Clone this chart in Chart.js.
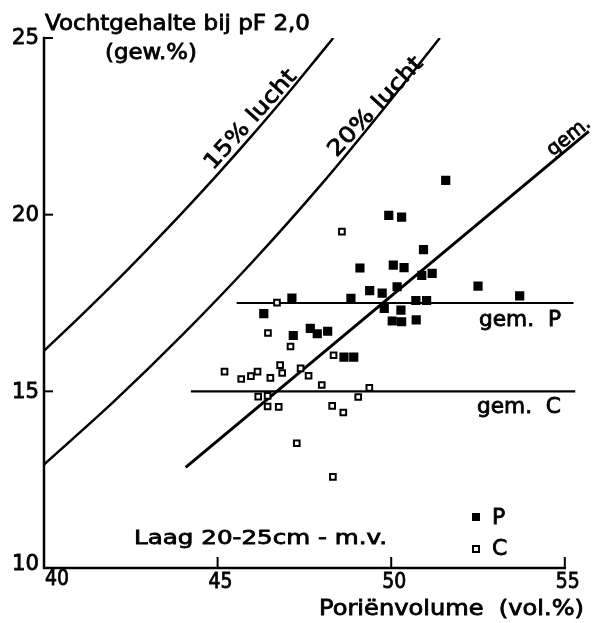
<!DOCTYPE html>
<html lang="nl">
<head>
<meta charset="UTF-8" />
<title>Vochtgehalte bij pF 2,0</title>
<script src="https://cdn.jsdelivr.net/npm/chart.js"></script>
<style>
    * { margin: 0; padding: 0; box-sizing: border-box; }
    body { background: #fff; width: 597px; height: 623px; overflow: hidden; }
    canvas { display: block; }
</style>
</head>
<body>
<canvas id="chart" width="597" height="623"></canvas>
<script>
    // axis ticks
    const xTicks = [40, 45, 50, 55];
    const yTicks = [10, 15, 20, 25];

    // P (filled squares)
    const pX = [51.57, 49.93, 50.30, 50.93, 49.10, 50.06, 50.37, 50.88, 51.18, 50.17, 52.50, 49.38, 49.74, 48.84, 53.70,
                50.71, 51.02, 47.14, 46.33, 49.80, 50.28, 50.03, 50.30, 50.72, 47.67, 47.87, 48.17, 47.18, 48.64, 48.92];
    const pY = [20.97, 19.98, 19.93, 19.01, 18.49, 18.57, 18.50, 18.28, 18.34, 17.96, 17.98, 17.85, 17.78, 17.63, 17.70,
                17.57, 17.57, 17.64, 17.20, 17.35, 17.30, 16.99, 16.97, 17.02, 16.78, 16.63, 16.70, 16.58, 15.97, 15.97];

    // C (open squares)
    const cX = [45.20, 45.68, 45.96, 46.15, 46.52, 46.80, 46.86, 47.39, 47.62, 48.00, 49.37, 49.05, 46.17, 46.44, 46.44,
                46.76, 48.30, 48.62, 47.28, 48.32, 46.45, 47.10, 46.71, 48.58, 48.34];
    const cY = [15.56, 15.35, 15.43, 15.56, 15.38, 15.74, 15.52, 15.65, 15.44, 15.18, 15.10, 14.84, 14.85, 14.87, 14.57,
                14.56, 14.59, 14.40, 13.53, 12.58, 16.65, 16.27, 17.51, 19.52, 16.02];

    // lines
    const lucht15X = [40, 41, 42, 43, 44, 45, 46, 47, 48, 48.33];
    const lucht15Y = [16.15, 17.08, 18.04, 19.04, 20.07, 21.14, 22.25, 23.40, 24.60, 25.0];
    const lucht20X = [40, 42, 44, 46, 48, 50, 51.4];
    const lucht20Y = [12.93, 14.70, 16.61, 18.66, 20.87, 23.26, 25.0];
    const gemX = [44.08, 55.69];
    const gemY = [12.85, 22.36];
    const gemPX = [45.55, 55.25];
    const gemPY = [17.5, 17.5];
    const gemCX = [44.23, 55.3];
    const gemCY = [15.0, 15.0];

    const pts = (xs, ys) => xs.map((x, i) => ({ x: x, y: ys[i] }));

    function lineSet(xs, ys, w) {
        return {
            data: pts(xs, ys),
            showLine: true,
            borderColor: '#000',
            borderWidth: w,
            pointRadius: 0,
            cubicInterpolationMode: 'monotone'
        };
    }

    // text drawn squeezed/stretched to the width it has in the figure
    function label(ctx, s, x, y, size, w, align, rot) {
        ctx.save();
        ctx.font = size + 'px "DejaVu Sans"';
        const m = ctx.measureText(s).width;
        ctx.translate(x, y);
        if (rot) ctx.rotate(rot);
        ctx.scale(w ? w / m : 1, 1);
        ctx.textAlign = align || 'left';
        ctx.textBaseline = 'middle';
        ctx.fillStyle = '#000';
        ctx.strokeStyle = '#000';
        ctx.lineWidth = 0.8;
        ctx.fillText(s, 0, 0);
        ctx.strokeText(s, 0, 0);
        ctx.restore();
    }

    const deg = Math.PI / 180;

    const frame = {
        id: 'frame',
        afterDraw(chart) {
            const ctx = chart.ctx;
            const xs = chart.scales.x, ys = chart.scales.y;
            const x0 = xs.getPixelForValue(40), y0 = ys.getPixelForValue(10);
            ctx.save();
            ctx.strokeStyle = '#000';
            ctx.lineWidth = 2.5;
            ctx.lineCap = 'square';
            ctx.beginPath();
            ctx.moveTo(x0, ys.getPixelForValue(25));
            ctx.lineTo(x0, y0);
            ctx.lineTo(xs.getPixelForValue(55), y0);
            ctx.stroke();

            // ticks point inward
            ctx.lineWidth = 2;
            yTicks.forEach(v => {
                if (v === 10) return;
                const py = ys.getPixelForValue(v);
                ctx.beginPath();
                ctx.moveTo(x0, py);
                ctx.lineTo(x0 + 8, py);
                ctx.stroke();
            });
            xTicks.forEach(v => {
                if (v === 40) return;
                const px = xs.getPixelForValue(v);
                ctx.beginPath();
                ctx.moveTo(px, y0);
                ctx.lineTo(px, y0 - 10);
                ctx.stroke();
            });
            ctx.restore();

            // tick labels
            yTicks.forEach(v => {
                const py = ys.getPixelForValue(v) + (v === 10 ? -3 : 1);
                label(ctx, String(v), x0 - 5, py, 21, 27, 'right');
            });
            xTicks.forEach(v => {
                const px = xs.getPixelForValue(v);
                if (v === 40) label(ctx, String(v), px + 1, y0 + 12, 21, 24, 'left');
                else label(ctx, String(v), px + 3, y0 + 15, 21, 24, 'center');
            });

            // axis titles and notes
            label(ctx, 'Vochtgehalte bij pF 2,0', 45, 25, 21, 265, 'left');
            label(ctx, '(gew.%)', 105, 54, 21, 92, 'left');
            label(ctx, 'Poriënvolume  (vol.%)', 319, 610, 21, 265, 'left');
            label(ctx, 'Laag 20-25cm - m.v.', 134, 539, 20, 253, 'left');
            label(ctx, 'gem.  P', 479, 321, 21, 82, 'left');
            label(ctx, 'gem.  C', 477, 408, 21, 84, 'left');
            label(ctx, '15% lucht', 251, 120, 22, 126, 'center', -48 * deg);
            label(ctx, '20% lucht', 376, 107, 22, 128, 'center', -47 * deg);
            label(ctx, 'gem.', 569, 137, 20, 50, 'center', -39 * deg);

            // legend
            ctx.save();
            ctx.fillStyle = '#000';
            ctx.fillRect(472, 513, 8, 8);
            ctx.strokeStyle = '#000';
            ctx.lineWidth = 2;
            ctx.strokeRect(473, 546, 6, 6);
            ctx.restore();
            label(ctx, 'P', 492, 518, 22, 0, 'left');
            label(ctx, 'C', 492, 549, 22, 0, 'left');
        }
    };

    new Chart(document.getElementById('chart'), {
        type: 'scatter',
        data: {
            datasets: [
                {
                    data: pts(pX, pY),
                    pointStyle: 'rect',
                    pointRadius: 6.5,
                    backgroundColor: '#000',
                    borderColor: '#000',
                    borderWidth: 0
                },
                {
                    data: pts(cX, cY),
                    pointStyle: 'rect',
                    pointRadius: 4,
                    backgroundColor: '#fff',
                    borderColor: '#000',
                    borderWidth: 2
                },
                lineSet(lucht15X, lucht15Y, 2.5),
                lineSet(lucht20X, lucht20Y, 2.5),
                lineSet(gemX, gemY, 3),
                lineSet(gemPX, gemPY, 2.2),
                lineSet(gemCX, gemCY, 2.2)
            ]
        },
        options: {
            responsive: false,
            animation: false,
            layout: { padding: { left: 44, right: 0, top: 38, bottom: 55 } },
            plugins: {
                legend: { display: false },
                tooltip: { enabled: false }
            },
            scales: {
                x: { type: 'linear', min: 40, max: 55.74, display: false },
                y: { type: 'linear', min: 10, max: 25, display: false }
            }
        },
        plugins: [frame]
    });
</script>
</body>
</html>
